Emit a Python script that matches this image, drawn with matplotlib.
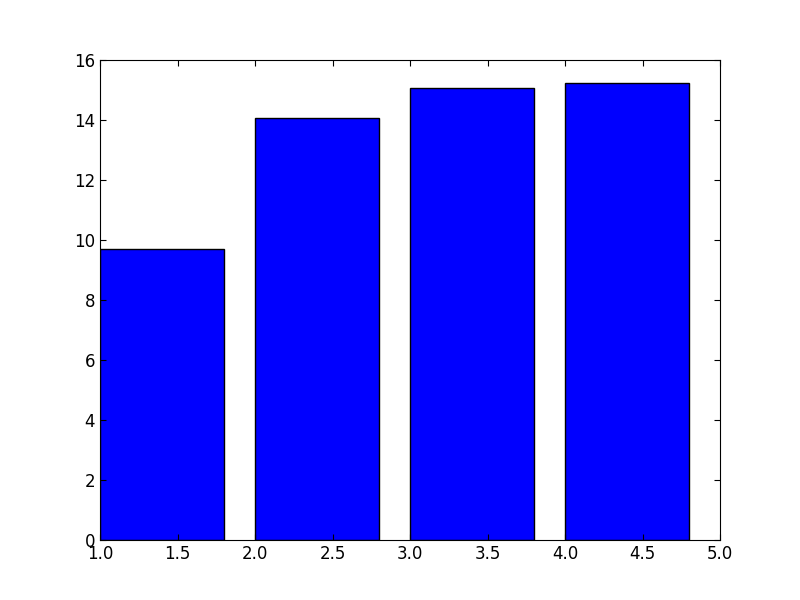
import matplotlib
matplotlib.use("Agg")
import matplotlib.pyplot as plt

# Bar data
lefts = [1, 2, 3, 4]
heights = [9.7, 14.08, 15.07, 15.23]

plt.rcParams["font.size"] = 12
plt.rcParams["xtick.direction"] = "in"
plt.rcParams["ytick.direction"] = "in"
plt.rcParams["xtick.top"] = True
plt.rcParams["ytick.right"] = True
plt.rcParams["xtick.major.size"] = 4
plt.rcParams["ytick.major.size"] = 4

fig = plt.figure(figsize=(8, 6), dpi=100)
fig.subplots_adjust(left=0.125, right=0.9, bottom=0.1, top=0.9)
ax = fig.add_subplot(111)
ax.bar(lefts, heights, width=0.8, align="edge", color="blue", edgecolor="black", linewidth=1)
ax.set_xlim(1, 5)
ax.set_ylim(0, 16)
ax.set_xticks([1.0, 1.5, 2.0, 2.5, 3.0, 3.5, 4.0, 4.5, 5.0])
ax.set_xticklabels(["1.0", "1.5", "2.0", "2.5", "3.0", "3.5", "4.0", "4.5", "5.0"])
ax.set_yticks(range(0, 17, 2))

fig.savefig("out.png", dpi=100)
